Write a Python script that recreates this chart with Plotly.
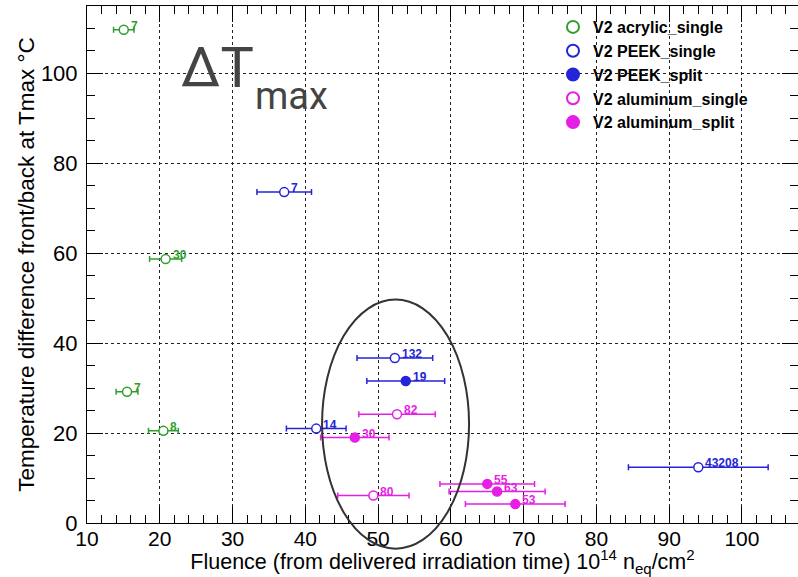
import plotly.graph_objects as go

# ---------------- data ----------------
acr_x = [15.05, 20.8, 15.5, 20.5]
acr_y = [109.7, 58.7, 29.2, 20.5]
acr_xerr = [1.4, 2.2, 1.5, 2.05]
acr_lab = ["7", "30", "7", "8"]

peek_s_x = [37.1, 52.3, 41.5, 94.0]
peek_s_y = [73.6, 36.7, 21.0, 12.4]
peek_s_xerr = [3.75, 5.2, 4.1, 9.6]
peek_s_lab = ["7", "132", "14", "43208"]

peek_p_x = [53.8]
peek_p_y = [31.6]
peek_p_xerr = [5.35]
peek_p_lab = ["19"]

alu_s_x = [52.6, 49.35]
alu_s_y = [24.2, 6.1]
alu_s_xerr = [5.25, 4.9]
alu_s_lab = ["82", "80"]

alu_p_x = [46.8, 65.0, 66.35, 68.85]
alu_p_y = [19.0, 8.7, 7.0, 4.2]
alu_p_xerr = [4.7, 6.5, 6.6, 6.85]
alu_p_lab = ["30", "55", "63", "53"]

x_ticks = [10, 20, 30, 40, 50, 60, 70, 80, 90, 100]
y_ticks = [0, 20, 40, 60, 80, 100]

# highlight ellipse (data units): centre x, centre y, half-width, half-height
ell_cx, ell_cy, ell_rx, ell_ry = 52.4, 22.0, 10.1, 27.7

X_RANGE = [10, 107.7]
Y_RANGE = [0, 115]

GREEN = "#2f9e2f"
BLUE = "#2424d8"
MAGENTA = "#e61ee6"

series = [
    ("V2 acrylic_single", acr_x, acr_y, acr_xerr, acr_lab, GREEN, True),
    ("V2 PEEK_single", peek_s_x, peek_s_y, peek_s_xerr, peek_s_lab, BLUE, True),
    ("V2 PEEK_split", peek_p_x, peek_p_y, peek_p_xerr, peek_p_lab, BLUE, False),
    ("V2 aluminum_single", alu_s_x, alu_s_y, alu_s_xerr, alu_s_lab, MAGENTA, True),
    ("V2 aluminum_split", alu_p_x, alu_p_y, alu_p_xerr, alu_p_lab, MAGENTA, False),
]

fig = go.Figure()
annotations = []
for name, xs, ys, xe, labs, col, hollow in series:
    fig.add_trace(go.Scatter(
        x=xs, y=ys, mode="markers", name=name,
        error_x=dict(type="data", array=xe, visible=True, color=col,
                     thickness=1.5, width=3),
        marker=dict(symbol="circle", size=9,
                    color="white" if hollow else col,
                    line=dict(color=col, width=1.5)),
        cliponaxis=False,
    ))
    for x, y, t in zip(xs, ys, labs):
        annotations.append(dict(
            x=x, y=y, xref="x", yref="y", text=t, showarrow=False,
            xanchor="left", yanchor="middle", xshift=5, yshift=4,
            font=dict(family="Liberation Sans, Arial", size=12, color=col,
                      weight="bold"),
        ))

# big label: "ΔT" with subscript "max"
annotations.append(dict(
    x=0.129, y=0.948, xref="paper", yref="paper",
    text="ΔT", showarrow=False, xanchor="left", yanchor="top",
    font=dict(family="Roboto", size=56, color="#444444"),
))
annotations.append(dict(
    x=0.2335, y=0.872, xref="paper", yref="paper",
    text="max", showarrow=False, xanchor="left", yanchor="top",
    font=dict(family="Roboto", size=38, color="#444444"),
))

# ellipse in paper coordinates (so it may extend beyond the frame)
def px(v):
    return (v - X_RANGE[0]) / (X_RANGE[1] - X_RANGE[0])

def py(v):
    return (v - Y_RANGE[0]) / (Y_RANGE[1] - Y_RANGE[0])

shapes = [dict(
    type="circle", xref="paper", yref="paper",
    x0=px(ell_cx - ell_rx), x1=px(ell_cx + ell_rx),
    y0=py(ell_cy - ell_ry), y1=py(ell_cy + ell_ry),
    line=dict(color="#333333", width=2), layer="above",
)]

axis_common = dict(
    showline=True, linecolor="black", linewidth=1, mirror="allticks",
    ticks="inside", ticklen=16, tickcolor="black", tickwidth=1,
    showgrid=True, gridcolor="#222222", griddash="dot", gridwidth=1,
    zeroline=False,
)

fig.update_layout(
    width=798, height=577,
    margin=dict(l=87, r=0, t=6, b=54),
    plot_bgcolor="white", paper_bgcolor="white",
    xaxis=dict(range=X_RANGE, tickvals=x_ticks, **axis_common,
               tickfont=dict(family="Liberation Sans, Arial", size=21, color="black"),
               minor=dict(dtick=2, ticklen=8, ticks="inside", tickcolor="black",
                          showgrid=False),
               title=dict(text="Fluence (from delivered irradiation time) 10<sup>14</sup> n<sub>eq</sub>/cm<sup>2</sup>",
                          font=dict(family="Liberation Sans, Arial", size=21.5, color="black"),
                          standoff=2),
               ticklabelstandoff=-3),
    yaxis=dict(range=Y_RANGE, tickvals=y_ticks, **axis_common,
               tickfont=dict(family="Liberation Sans, Arial", size=22, color="black"),
               minor=dict(dtick=5, ticklen=8, ticks="inside", tickcolor="black",
                          showgrid=False),
               title=dict(text="Temperature difference front/back at Tmax °C",
                          font=dict(family="Liberation Sans, Arial", size=22.5, color="black"),
                          standoff=0),
               ticklabelstandoff=4),
    legend=dict(x=(553 - 87) / 711, y=1 - (10 - 6) / 517, xanchor="left", yanchor="top",
                bgcolor="rgba(0,0,0,0)", borderwidth=0,
                font=dict(family="Liberation Sans, Arial", size=16, color="black", weight="bold"),
                tracegroupgap=0, itemsizing="constant"),
    showlegend=True,
    annotations=annotations,
    shapes=shapes,
)

fig.write_html("out.html")
